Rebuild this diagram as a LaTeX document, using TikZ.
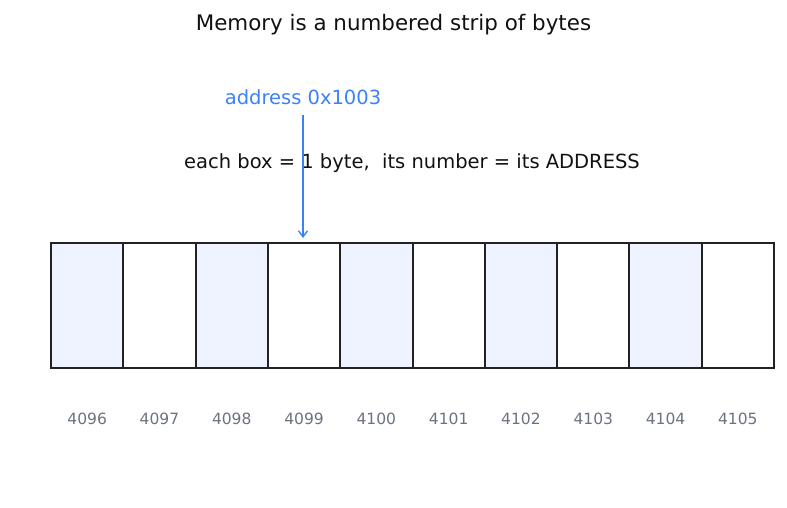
\documentclass[tikz,border=0pt]{standalone}
\usepackage{fontspec}
\setmainfont{DejaVu Sans}
\usetikzlibrary{arrows.meta}
\definecolor{accent}{RGB}{59,130,246}
\definecolor{cellfill}{RGB}{238,243,255}
\definecolor{edge}{RGB}{34,34,34}
\definecolor{numgray}{RGB}{107,114,128}
\definecolor{titlecol}{RGB}{17,17,17}
\begin{document}
\begin{tikzpicture}[x=1pt,y=-1pt,
  cell/.style={draw=edge,line width=2pt,minimum width=72.3pt,minimum height=125pt,inner sep=0pt,anchor=north west},
  addr/.style={text=numgray,font=\fontsize{15.5}{18}\selectfont},
  lbl/.style={inner sep=0pt,anchor=base}]
\useasboundingbox (0,0) rectangle (787,508);
\node[lbl,text=titlecol,font=\fontsize{21.4}{25}\selectfont] (title) at (393.5,31) {Memory is a numbered strip of bytes};
\node[lbl,text=titlecol,font=\fontsize{19.5}{23}\selectfont] (sub) at (412,168) {each box = 1 byte,\ \ its number = its ADDRESS};
\node[lbl,text=accent,font=\fontsize{19.5}{23}\selectfont] (ptr) at (303,105) {address 0x1003};
\foreach \i/\n in {0/4096,1/4097,2/4098,3/4099,4/4100,5/4101,6/4102,7/4103,8/4104,9/4105}{
  \pgfmathsetmacro{\xx}{50+72.3*\i}
  \pgfmathparse{mod(\i,2)==0?"cellfill":"white"}
  \edef\fc{\pgfmathresult}
  \node[cell,fill=\fc] (c\i) at (\xx,242) {};
  \node[lbl,addr] (n\i) at ([yshift=-55.5pt]c\i.south) {\n};
}
\coordinate (tip) at (303,238);
\coordinate (tail) at (303,115);
\draw[accent,line width=1.4pt,-{Straight Barb[length=6pt,width=9pt]}] (tail) -- (tip);
\end{tikzpicture}
\end{document}
